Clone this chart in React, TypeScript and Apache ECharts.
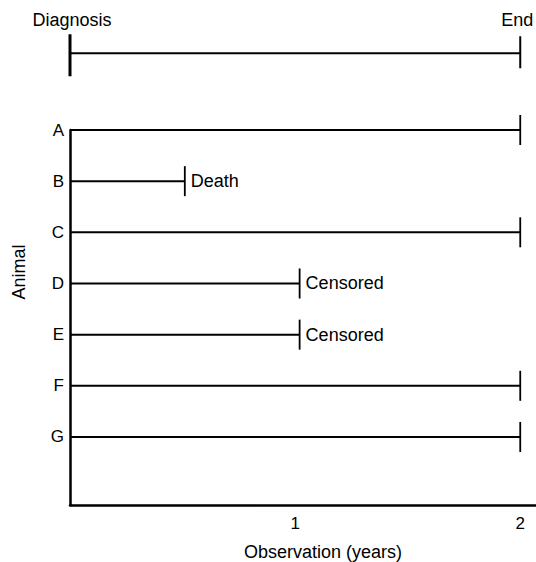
import React, { useEffect, useRef } from "react";
import * as echarts from "echarts";

const animals = ["A", "B", "C", "D", "E", "F", "G"];
const endTimes = [2, 0.51, 2, 1.02, 1.02, 2, 2];
const outcomes = ["", "Death", "", "Censored", "Censored", "", ""];
const xTickValues = [1, 2];
const studyStart = 0;
const studyEnd = 2;
const studyLabels = ["Diagnosis", "End"];

const FONT = '"Liberation Sans", Arial, Helvetica, sans-serif';

export default function App() {
  const ref = useRef<HTMLDivElement>(null);
  useEffect(() => {
    document.body.style.margin = "0";
    const chart = echarts.init(ref.current!, null, { renderer: "svg" });
    const n = animals.length;
    const rowData = animals.map((a, i) => [0, endTimes[i], n - i, outcomes[i]]);
    const topRow = n + 1.5;
    chart.setOption({
      animation: false,
      backgroundColor: "#fff",
      textStyle: { fontFamily: FONT, color: "#000" },
      grid: { left: 70, right: 0, top: 130, bottom: 57, containLabel: false, outerBoundsMode: "none" },
      xAxis: {
        type: "value",
        min: 0,
        max: 2.07,
        name: "Observation (years)",
        nameLocation: "middle",
        nameGap: 38,
        nameTextStyle: { fontSize: 18, color: "#000", fontFamily: FONT, padding: [0, 0, 0, 40] },
        axisLine: { show: true, onZero: false, lineStyle: { color: "#000", width: 2.5 } },
        axisTick: { show: false },
        splitLine: { show: false },
        axisLabel: {
          customValues: xTickValues,
          fontSize: 17,
          color: "#000",
          margin: 10,
          fontFamily: FONT,
          formatter: (v: number) => String(v),
        },
      },
      yAxis: {
        type: "value",
        min: -0.33,
        max: n,
        axisLine: { show: true, onZero: false, lineStyle: { color: "#000", width: 2.5 } },
        axisTick: { show: false },
        splitLine: { show: false },
        axisLabel: {
          customValues: animals.map((_, i) => n - i),
          formatter: (v: number) => animals[n - Math.round(v)] ?? "",
          fontSize: 17,
          color: "#000",
          margin: 6,
          fontFamily: FONT,
        },
      },
      graphic: [
        {
          type: "text",
          x: 19,
          y: 272,
          rotation: Math.PI / 2,
          style: {
            text: "Animal",
            fontSize: 18,
            fontFamily: FONT,
            fill: "#000",
            align: "center",
            verticalAlign: "middle",
          },
        },
      ],
      series: [
        {
          type: "custom",
          clip: false,
          data: rowData,
          renderItem: (params: any, api: any) => {
            const y = api.value(2);
            const s = api.coord([api.value(0), y]);
            const e = api.coord([api.value(1), y]);
            const label = outcomes[params.dataIndex];
            const children: any[] = [
              {
                type: "line",
                shape: { x1: s[0], y1: s[1], x2: e[0], y2: e[1] },
                style: { stroke: "#000", lineWidth: 2 },
              },
              {
                type: "line",
                shape: { x1: e[0], y1: e[1] - 15, x2: e[0], y2: e[1] + 15 },
                style: { stroke: "#000", lineWidth: 1.8 },
              },
            ];
            if (label) {
              children.push({
                type: "text",
                x: e[0] + 6,
                y: e[1],
                style: {
                  text: label,
                  fontSize: 18,
                  fontFamily: FONT,
                  fill: "#000",
                  align: "left",
                  verticalAlign: "middle",
                },
              });
            }
            return { type: "group", children };
          },
        },
        {
          type: "custom",
          clip: false,
          data: [[studyStart, studyEnd, topRow]],
          renderItem: (params: any, api: any) => {
            const y = api.value(2);
            const s = api.coord([api.value(0), y]);
            const e = api.coord([api.value(1), y]);
            return {
              type: "group",
              children: [
                {
                  type: "line",
                  shape: { x1: s[0], y1: s[1], x2: e[0], y2: e[1] },
                  style: { stroke: "#000", lineWidth: 2 },
                },
                {
                  type: "line",
                  shape: { x1: s[0], y1: s[1] - 19, x2: s[0], y2: s[1] + 23 },
                  style: { stroke: "#000", lineWidth: 3 },
                },
                {
                  type: "line",
                  shape: { x1: e[0], y1: e[1] - 17, x2: e[0], y2: e[1] + 15 },
                  style: { stroke: "#000", lineWidth: 2 },
                },
                {
                  type: "text",
                  x: s[0] + 2,
                  y: s[1] - 33,
                  style: {
                    text: studyLabels[0],
                    fontSize: 18,
                    fontFamily: FONT,
                    fill: "#000",
                    align: "center",
                    verticalAlign: "middle",
                  },
                },
                {
                  type: "text",
                  x: e[0] - 3,
                  y: e[1] - 33,
                  style: {
                    text: studyLabels[1],
                    fontSize: 18,
                    fontFamily: FONT,
                    fill: "#000",
                    align: "center",
                    verticalAlign: "middle",
                  },
                },
              ],
            };
          },
        },
      ],
    });
    return () => chart.dispose();
  }, []);
  return <div ref={ref} style={{ width: 536, height: 562 }} />;
}
